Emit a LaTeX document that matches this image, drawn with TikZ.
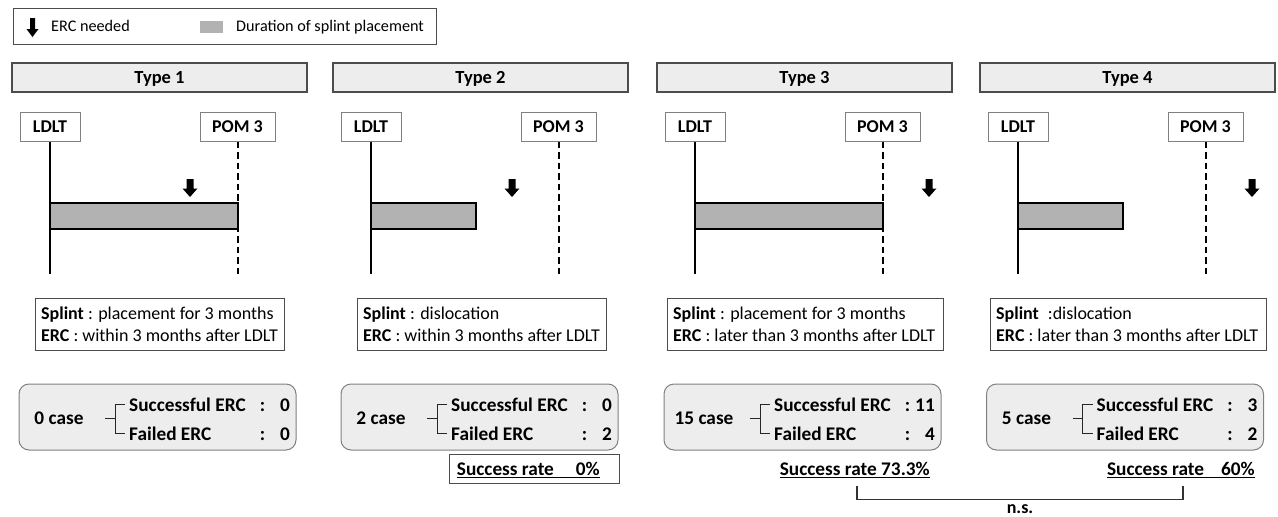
\documentclass[tikz,border=0pt]{standalone}
\usepackage{fontspec}
\setmainfont{Carlito}
\begin{document}
\begin{tikzpicture}[x=1pt,y=-1pt,
  hdr/.style={draw=black!70, fill=black!7, line width=1.3pt, minimum width=295pt, minimum height=29pt,
    inner sep=0pt, text height=11.9pt, text depth=0pt, font=\fontsize{18.5}{20}\selectfont\bfseries},
  tag/.style={draw=black!50, fill=white, line width=1pt, minimum height=29pt, inner sep=0pt,
    text height=11.6pt, text depth=0pt, font=\fontsize{18}{20}\selectfont\bfseries},
  axis/.style={line width=2pt},
  pomline/.style={line width=2pt, dash pattern=on 6.5pt off 4pt},
  barbox/.style={draw=black, fill=black!30, line width=2pt},
  descbox/.style={draw=black!70, line width=1pt, inner sep=0pt, minimum height=52pt},
  desctxt/.style={inner sep=0pt, anchor=west, align=left, font=\fontsize{18}{21.7}\selectfont},
  resbox/.style={draw=black!50, fill=black!7, rounded corners=10pt, line width=1pt,
    minimum width=277pt, minimum height=66pt},
  txt/.style={inner sep=0pt, font=\fontsize{19.3}{21}\selectfont\bfseries},
  legtxt/.style={inner sep=0pt, font=\fontsize{16.2}{18}\selectfont},
  brk/.style={line width=1pt, black!85},
  rule/.style={line width=1.3pt}
]
\useasboundingbox (0,0) rectangle (1278,517);
\fill[white] (0,0) rectangle (1278,517);

% legend
\node[draw=black!70, line width=1pt, minimum width=423pt, minimum height=36pt, inner sep=0pt] (legend) at (224.5,26) {};
\fill[shift={(32.5,18)}] (-2.5,0) -- (2.5,0) -- (2.5,11) -- (6,11) -- (0,19) -- (-6,11) -- (-2.5,11) -- cycle;
\node[legtxt, anchor=base west] (legerc) at (51,31.7) {ERC needed};
\fill[black!30] (200,21) rectangle (223,33);
\node[legtxt, anchor=base west] (legdur) at (236,31.7) {Duration of splint placement};

% headers and time lines
\foreach \i/\hx/\bx/\ax in {1/12/225.5/178, 2/333/143/179, 3/657/225.5/272, 4/980/143/272} {
  \node[hdr] (type\i) at (\hx+147.5,77.5) {Type \i};
  \node[tag, minimum width=60pt] (ldlt\i) at (\hx+38,126.5) {LDLT};
  \node[tag, minimum width=75pt] (pom\i) at (\hx+225.5,126.5) {POM 3};
  \coordinate (ldltfoot\i) at (\hx+38,274);
  \coordinate (pomfoot\i) at (\hx+225.5,274);
  \draw[axis] (ldlt\i.south) -- (ldltfoot\i);
  \draw[pomline] (pom\i.south) -- (pomfoot\i);
  \draw[barbox] (\hx+38,202.5) rectangle (\hx+\bx,228.5);
  \fill[shift={(\hx+\ax,179)}] (-3.5,0) -- (3.5,0) -- (3.5,9.5) -- (7.5,9.5) -- (0,18) -- (-7.5,9.5) -- (-3.5,9.5) -- cycle;
}

% descriptions
\node[descbox, minimum width=249pt] (desc1) at (159.5,324) {};
\node[desctxt] (desc1t) at ([xshift=6.5pt]desc1.west)
  {\textbf{Splint} : placement for 3 months\\\textbf{ERC} : within 3 months after LDLT};
\node[descbox, minimum width=249pt] (desc2) at (481.5,324) {};
\node[desctxt] (desc2t) at ([xshift=6.5pt]desc2.west)
  {\textbf{Splint} : dislocation\\\textbf{ERC} : within 3 months after LDLT};
\node[descbox, minimum width=276pt] (desc3) at (805,324) {};
\node[desctxt] (desc3t) at ([xshift=6.5pt]desc3.west)
  {\textbf{Splint} : placement for 3 months\\\textbf{ERC} : later than 3 months after LDLT};
\node[descbox, minimum width=276pt] (desc4) at (1128,324) {};
\node[desctxt] (desc4t) at ([xshift=6.5pt]desc4.west)
  {\textbf{Splint}\enspace:dislocation\\\textbf{ERC} : later than 3 months after LDLT};

% case counts
\foreach \i/\cx/\n/\s/\f in {1/157.5/0/0/0, 2/479.5/2/0/2, 3/802.5/15/11/4, 4/1125/5/3/2} {
  \node[resbox] (res\i) at (\cx,417) {};
  \node[txt, anchor=base] (case\i) at (\cx-98.5,424) {\n\ case};
  \node[txt, anchor=base west] (succ\i) at (\cx-28.5,411) {Successful ERC};
  \node[txt, anchor=base west] (fail\i) at (\cx-28.5,440) {Failed ERC};
  \node[txt, anchor=base] (cs\i) at (\cx+105,411) {:};
  \node[txt, anchor=base] (cf\i) at (\cx+105,440) {:};
  \node[txt, anchor=base east] (ns\i) at (\cx+132.5,411) {\s};
  \node[txt, anchor=base east] (nf\i) at (\cx+132.5,440) {\f};
  \draw[brk] (\cx-52.5,418) -- (\cx-42.5,418);
  \draw[brk] (\cx-32.5,404.5) -- (\cx-42.5,404.5) -- (\cx-42.5,433.5) -- (\cx-32.5,433.5);
}

% success rates
\node[draw=black!70, line width=1pt, minimum width=170pt, minimum height=29pt, inner sep=0pt] (rate2box) at (534,468.5) {};
\node[txt, anchor=base east] (rate2) at (600,475) {Success rate\hspace{22pt}0\%};
\node[txt, anchor=base east] (rate3) at (930,475) {Success rate 73.3\%};
\node[txt, anchor=base east] (rate4) at (1255,475) {Success rate\hspace{17pt}60\%};
\foreach \r in {2,3,4} {
  \draw[rule] ([yshift=-2.5pt]rate\r.base west) -- ([yshift=-2.5pt]rate\r.base east);
}

% comparison bracket
\coordinate (cmpL) at (857,486);
\coordinate (cmpR) at (1183,486);
\draw[line width=1.2pt, black!80] (cmpL) -- ++(0,13.5) -| (cmpR);
\node[inner sep=0pt, anchor=base, font=\fontsize{18}{20}\selectfont\bfseries] (nstext) at (1020,513.5) {n.s.};
\end{tikzpicture}
\end{document}
